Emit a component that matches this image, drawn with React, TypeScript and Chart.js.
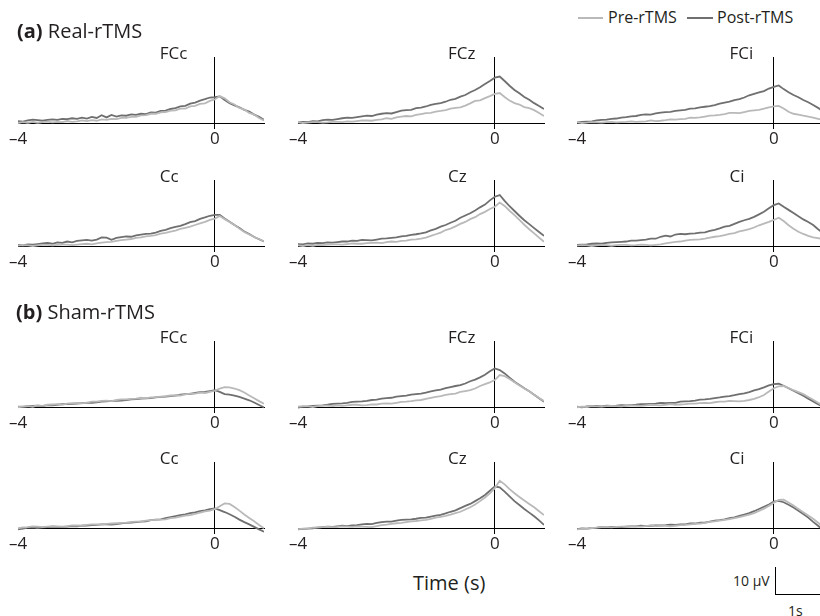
import React, { useEffect, useRef } from 'react';
import { Chart, registerables } from 'chart.js';

Chart.register(...registerables);

// ---------- data (µV, sampled every 0.1 s) ----------
const TIME_S = [
  -4, -3.9, -3.8, -3.7, -3.6, -3.5, -3.4, -3.3, -3.2, -3.1,
  -3, -2.9, -2.8, -2.7, -2.6, -2.5, -2.4, -2.3, -2.2, -2.1,
  -2, -1.9, -1.8, -1.7, -1.6, -1.5, -1.4, -1.3, -1.2, -1.1,
  -1, -0.9, -0.8, -0.7, -0.6, -0.5, -0.4, -0.3, -0.2, -0.1,
  0,
  0.1, 0.2, 0.3, 0.4, 0.5, 0.6, 0.7, 0.8, 0.9, 1,
];
const X_TICKS = [-4, 0];
const SERIES_NAMES = ['Pre-rTMS', 'Post-rTMS'];
const CHANNELS = ['FCc', 'FCz', 'FCi', 'Cc', 'Cz', 'Ci'];
const CONDITIONS = ['Real-rTMS', 'Sham-rTMS'];

const REAL_FCC_PRE = [
  0.0, 0.3, 0.1, 0.4, 0.1, 0.3, 0.5, 0.2, 0.4, 0.3,
  0.7, 0.4, 0.6, 0.9, 0.7, 1.0, 0.8, 1.3, 1.1, 1.5,
  1.4, 1.8, 1.8, 2.2, 2.2, 2.7, 2.8, 3.3, 3.3, 3.8,
  3.9, 4.4, 4.5, 5.1, 5.1, 5.9, 6.1, 6.8, 7.0, 7.9,
  8.4,
  9.6, 8.8, 7.4, 6.6, 5.4, 4.8, 3.6, 3.0, 1.8, 0.9,
];
const REAL_FCC_POST = [
  0.7, 0.5, 0.9, 1.2, 1.0, 0.8, 1.1, 1.3, 1.1, 1.5,
  1.4, 1.7, 1.5, 1.9, 1.6, 2.2, 1.8, 2.8, 2.0, 2.9,
  2.3, 2.7, 2.6, 3.1, 2.9, 3.3, 3.2, 3.8, 3.7, 4.3,
  4.4, 5.0, 5.3, 5.9, 6.1, 6.9, 7.3, 8.0, 8.5, 9.1,
  9.2,
  9.5, 8.2, 7.1, 6.3, 5.6, 4.7, 4.1, 3.0, 2.2, 1.1,
];
const REAL_FCZ_PRE = [
  0.2, 0.0, 0.1, 0.3, 0.3, 0.1, 0.2, 0.4, 0.4, 0.3,
  0.6, 0.5, 0.7, 0.9, 0.9, 0.8, 1.1, 1.3, 1.7, 1.5,
  2.0, 2.3, 2.5, 2.4, 2.9, 3.2, 3.5, 3.6, 4.1, 4.3,
  4.6, 5.1, 5.4, 5.6, 6.2, 7.0, 7.9, 8.1, 8.9, 9.6,
  10.4,
  10.7, 9.3, 8.0, 7.1, 6.6, 5.7, 5.3, 4.6, 3.6, 2.5,
];
const REAL_FCZ_POST = [
  0.2, 0.4, 0.3, 0.7, 0.6, 1.0, 1.2, 1.1, 1.4, 1.7,
  1.9, 1.8, 2.1, 2.4, 2.6, 2.5, 3.0, 3.3, 3.5, 3.4,
  3.9, 4.4, 4.6, 4.7, 5.3, 5.5, 5.9, 6.5, 6.8, 7.1,
  7.6, 8.3, 8.6, 9.4, 10.0, 11.0, 11.8, 12.8, 13.9, 15.0,
  16.2,
  16.6, 15.0, 13.3, 11.8, 10.6, 9.3, 8.3, 7.1, 6.1, 5.0,
];
const REAL_FCI_PRE = [
  0.2, 0.0, 0.1, 0.3, 0.2, 0.1, 0.3, 0.4, 0.2, 0.3,
  0.4, 0.6, 0.4, 0.5, 0.6, 0.9, 0.7, 0.8, 1.0, 1.3,
  1.2, 1.4, 1.5, 1.9, 1.8, 2.0, 2.3, 2.6, 2.7, 2.9,
  3.2, 3.6, 3.6, 3.5, 3.9, 4.3, 4.5, 4.7, 5.1, 5.6,
  5.9,
  6.1, 5.2, 4.0, 3.3, 3.0, 2.6, 2.3, 1.9, 1.5, 1.1,
];
const REAL_FCI_POST = [
  0.2, 0.4, 0.5, 0.6, 0.9, 1.1, 1.2, 1.5, 1.6, 1.9,
  2.1, 2.4, 2.5, 2.9, 3.1, 3.0, 3.4, 3.7, 3.9, 4.0,
  4.3, 4.5, 4.7, 5.1, 5.2, 5.6, 5.8, 6.0, 6.4, 6.9,
  7.3, 7.6, 8.2, 8.5, 9.1, 9.9, 10.4, 10.9, 11.4, 12.3,
  12.9,
  13.4, 12.1, 11.0, 10.0, 9.2, 8.2, 7.4, 6.4, 5.4, 4.3,
];
const REAL_CC_PRE = [
  0.1, 0.3, 0.2, 0.0, 0.2, 0.4, 0.4, 0.2, 0.4, 0.5,
  0.5, 0.3, 0.5, 0.7, 0.8, 0.6, 0.9, 1.2, 1.4, 1.5,
  1.8, 2.1, 2.3, 2.5, 2.9, 3.1, 3.4, 3.6, 3.9, 4.4,
  4.7, 5.1, 5.5, 6.1, 6.5, 6.9, 7.5, 8.1, 8.6, 9.3,
  9.8,
  10.7, 9.6, 8.6, 7.5, 6.2, 5.0, 4.1, 3.2, 2.5, 1.6,
];
const REAL_CC_POST = [
  0.4, 0.2, 0.6, 0.5, 0.7, 0.9, 1.1, 0.8, 1.3, 1.1,
  1.6, 1.3, 1.8, 2.0, 2.2, 1.9, 2.3, 3.1, 3.0, 2.2,
  2.9, 3.2, 3.4, 3.3, 3.8, 4.1, 4.3, 4.4, 4.8, 5.4,
  5.8, 6.4, 6.8, 7.2, 7.8, 8.5, 8.9, 9.7, 10.2, 10.8,
  11.1,
  11.1, 9.8, 8.7, 7.5, 6.4, 5.2, 4.3, 3.2, 2.4, 1.6,
];
const REAL_CZ_PRE = [
  0.2, 0.0, 0.3, 0.1, 0.4, 0.3, 0.5, 0.6, 0.6, 0.5,
  0.7, 0.9, 0.8, 0.8, 1.0, 1.1, 1.2, 1.0, 1.4, 1.6,
  1.5, 1.8, 1.9, 2.3, 2.4, 2.6, 3.0, 3.6, 4.2, 4.8,
  5.7, 6.2, 7.0, 7.9, 8.6, 9.6, 10.3, 11.4, 12.2, 13.2,
  14.0,
  15.5, 14.3, 12.6, 11.0, 9.3, 7.6, 6.0, 4.5, 3.0, 1.5,
];
const REAL_CZ_POST = [
  0.7, 0.6, 0.9, 0.8, 1.1, 1.0, 1.3, 1.2, 1.4, 1.6,
  1.6, 1.9, 1.8, 2.2, 2.1, 2.0, 2.3, 2.6, 2.7, 2.9,
  3.1, 3.4, 3.6, 4.0, 4.2, 4.5, 4.9, 5.6, 6.1, 6.9,
  7.5, 8.3, 9.0, 10.1, 10.9, 11.7, 12.7, 13.8, 14.8, 16.3,
  17.6,
  18.2, 16.1, 14.2, 12.5, 10.8, 9.2, 7.8, 6.4, 5.0, 3.6,
];
const REAL_CI_PRE = [
  0.1, 0.3, 0.2, 0.0, 0.2, 0.4, 0.3, 0.1, 0.3, 0.4,
  0.4, 0.2, 0.3, 0.5, 0.4, 0.2, 0.4, 0.6, 0.9, 1.2,
  1.5, 1.6, 1.9, 2.2, 2.3, 2.4, 2.6, 3.0, 3.3, 3.5,
  3.9, 4.3, 4.6, 5.2, 5.6, 6.0, 6.6, 7.4, 8.0, 8.6,
  9.3,
  10.1, 8.9, 7.4, 6.2, 5.1, 4.3, 3.6, 3.1, 2.8, 2.4,
];
const REAL_CI_POST = [
  0.4, 0.5, 0.6, 0.8, 0.9, 0.8, 1.1, 1.3, 1.4, 1.5,
  1.6, 1.9, 1.9, 2.1, 2.3, 2.6, 2.6, 3.3, 3.7, 3.4,
  4.1, 4.3, 4.2, 4.4, 4.5, 4.8, 4.9, 5.4, 5.8, 6.3,
  6.9, 7.2, 7.9, 8.6, 9.2, 9.7, 10.4, 11.3, 12.2, 13.5,
  14.6,
  15.2, 14.0, 12.9, 11.8, 10.6, 9.5, 8.6, 7.5, 6.0, 4.6,
];

const SHAM_FCC_PRE = [
  -0.1, 0.2, 0.3, 0.1, 0.6, 0.4, 0.8, 0.9, 1.0, 0.8,
  1.2, 1.4, 1.5, 1.3, 1.6, 1.9, 1.9, 2.2, 2.3, 2.1,
  2.5, 2.7, 2.7, 2.9, 3.0, 3.3, 3.1, 3.4, 3.5, 3.7,
  3.9, 4.1, 4.2, 4.1, 4.5, 4.8, 4.8, 5.1, 5.0, 5.4,
  5.8,
  6.6, 7.1, 7.0, 6.6, 6.0, 5.2, 4.1, 3.1, 2.1, 1.2,
];
const SHAM_FCC_POST = [
  0.1, 0.0, 0.3, 0.4, 0.5, 0.3, 0.7, 0.6, 0.8, 1.0,
  1.0, 1.1, 1.2, 1.4, 1.5, 1.5, 1.7, 1.9, 2.0, 2.2,
  2.2, 2.3, 2.5, 2.7, 2.8, 3.0, 3.1, 3.2, 3.4, 3.6,
  3.7, 3.9, 4.1, 4.4, 4.6, 4.7, 5.0, 5.3, 5.4, 5.7,
  6.0,
  5.4, 4.6, 4.4, 4.1, 3.6, 3.0, 2.4, 1.6, 0.7, -0.2,
];
const SHAM_FCZ_PRE = [
  0.1, 0.3, 0.2, 0.0, 0.3, 0.5, 0.5, 0.3, 0.6, 0.4,
  0.6, 0.8, 0.8, 0.6, 0.7, 0.9, 0.9, 1.2, 1.3, 1.2,
  1.5, 1.8, 1.9, 2.1, 2.4, 2.5, 2.9, 3.3, 3.6, 3.9,
  4.3, 4.6, 4.8, 5.4, 5.7, 6.0, 6.6, 7.5, 8.2, 8.8,
  9.6,
  11.4, 11.0, 10.0, 8.8, 7.7, 6.6, 5.6, 4.4, 3.2, 2.1,
];
const SHAM_FCZ_POST = [
  -0.2, 0.1, 0.2, 0.4, 0.5, 0.6, 0.8, 1.1, 1.2, 1.3,
  1.5, 1.8, 1.9, 2.0, 2.2, 2.5, 2.6, 3.0, 3.2, 3.3,
  3.7, 3.9, 4.1, 4.4, 4.6, 4.8, 5.1, 5.6, 5.9, 6.2,
  6.7, 7.1, 7.5, 7.8, 8.4, 9.2, 9.8, 10.6, 11.5, 12.8,
  13.8,
  13.2, 12.0, 10.5, 9.0, 7.9, 6.7, 5.6, 4.4, 3.1, 1.9,
];
const SHAM_FCI_PRE = [
  -0.1, 0.1, 0.0, 0.3, 0.2, 0.1, 0.3, 0.4, 0.3, 0.2,
  0.4, 0.6, 0.5, 0.4, 0.6, 0.8, 0.7, 0.6, 0.8, 1.0,
  0.8, 0.9, 1.0, 1.2, 1.2, 1.4, 1.5, 1.4, 1.7, 1.9,
  1.9, 2.2, 2.1, 2.0, 2.2, 2.5, 2.9, 3.5, 4.3, 5.5,
  6.7,
  7.4, 7.5, 6.8, 6.0, 5.3, 4.6, 3.6, 2.6, 1.5, 0.5,
];
const SHAM_FCI_POST = [
  0.1, -0.1, 0.2, 0.3, 0.4, 0.2, 0.5, 0.4, 0.5, 0.7,
  0.6, 0.7, 0.8, 1.0, 1.0, 1.1, 1.2, 1.5, 1.4, 1.5,
  1.5, 1.9, 2.0, 2.1, 2.3, 2.6, 2.7, 2.9, 3.2, 3.4,
  3.7, 3.9, 4.2, 4.6, 4.9, 5.3, 5.9, 6.4, 7.0, 7.7,
  8.2,
  8.3, 7.6, 6.7, 5.8, 4.9, 4.0, 3.0, 2.0, 1.0, 0.1,
];
const SHAM_CC_PRE = [
  -0.1, 0.2, 0.3, 0.6, 0.5, 0.3, 0.5, 0.7, 0.6, 0.5,
  0.7, 0.9, 0.9, 0.8, 1.1, 1.3, 1.3, 1.2, 1.5, 1.6,
  1.7, 1.8, 1.9, 2.2, 2.3, 2.4, 2.6, 2.8, 2.9, 3.0,
  3.1, 3.5, 3.7, 4.1, 4.4, 4.6, 5.0, 5.5, 5.9, 6.2,
  6.7,
  7.8, 8.8, 8.6, 7.5, 6.2, 4.8, 3.6, 2.4, 1.1, -0.1,
];
const SHAM_CC_POST = [
  -0.5, -0.2, 0.1, 0.2, 0.0, 0.2, 0.3, 0.5, 0.4, 0.4,
  0.5, 0.7, 0.6, 0.8, 0.9, 1.0, 1.1, 1.3, 1.3, 1.2,
  1.4, 1.7, 1.8, 1.9, 2.1, 2.3, 2.4, 2.8, 3.0, 3.1,
  3.5, 3.9, 4.2, 4.6, 4.9, 5.3, 5.6, 6.0, 6.3, 6.7,
  7.0,
  6.4, 5.7, 4.9, 4.0, 3.0, 2.1, 1.3, 0.4, -0.5, -1.3,
];
const SHAM_CZ_PRE = [
  -0.4, -0.2, -0.1, 0.1, 0.2, 0.3, 0.4, 0.3, 0.4, 0.6,
  0.5, 0.4, 0.6, 0.5, 0.4, 0.3, 0.7, 1.0, 1.2, 1.5,
  1.7, 1.8, 2.1, 2.4, 2.5, 2.7, 2.9, 3.3, 3.7, 4.0,
  4.3, 4.8, 5.3, 5.8, 6.6, 7.4, 8.4, 9.6, 10.9, 12.4,
  14.2,
  16.9, 15.6, 13.9, 12.4, 11.1, 9.8, 8.6, 7.4, 6.0, 4.6,
];
const SHAM_CZ_POST = [
  -0.5, -0.3, -0.2, -0.1, 0.1, 0.3, 0.5, 0.4, 0.6, 0.8,
  0.7, 0.9, 1.0, 1.3, 1.5, 1.4, 1.8, 2.1, 2.3, 2.3,
  2.6, 2.9, 3.0, 3.1, 3.3, 3.6, 3.7, 4.1, 4.4, 4.7,
  5.2, 5.8, 6.3, 7.1, 7.9, 8.6, 9.6, 10.6, 11.8, 13.3,
  14.8,
  14.5, 13.0, 11.3, 9.6, 8.2, 6.8, 5.5, 4.2, 2.7, 1.1,
];
const SHAM_CI_PRE = [
  -0.5, -0.3, -0.2, 0.0, 0.1, 0.3, 0.3, 0.2, 0.4, 0.5,
  0.5, 0.7, 0.6, 0.5, 0.7, 0.9, 0.7, 0.8, 0.8, 0.6,
  0.8, 1.0, 1.1, 1.3, 1.5, 1.6, 1.8, 2.2, 2.4, 2.6,
  2.9, 3.2, 3.5, 3.9, 4.3, 4.8, 5.3, 6.1, 6.9, 7.9,
  9.0,
  10.0, 10.1, 9.1, 8.0, 6.8, 5.6, 4.5, 3.3, 1.9, 0.5,
];
const SHAM_CI_POST = [
  -0.4, -0.1, -0.2, 0.0, 0.1, 0.3, 0.2, 0.4, 0.4, 0.3,
  0.5, 0.6, 0.6, 0.8, 0.7, 0.8, 0.9, 0.9, 1.0, 1.2,
  1.1, 1.3, 1.3, 1.6, 1.6, 1.9, 1.9, 2.3, 2.6, 2.8,
  3.1, 3.5, 3.8, 4.3, 4.8, 5.3, 6.0, 6.8, 7.6, 8.4,
  9.4,
  9.7, 9.2, 8.3, 7.3, 6.2, 5.0, 3.7, 2.2, 0.8, -0.7,
];

const PRE_SETS = [
  [REAL_FCC_PRE, REAL_FCZ_PRE, REAL_FCI_PRE, REAL_CC_PRE, REAL_CZ_PRE, REAL_CI_PRE],
  [SHAM_FCC_PRE, SHAM_FCZ_PRE, SHAM_FCI_PRE, SHAM_CC_PRE, SHAM_CZ_PRE, SHAM_CI_PRE],
];
const POST_SETS = [
  [REAL_FCC_POST, REAL_FCZ_POST, REAL_FCI_POST, REAL_CC_POST, REAL_CZ_POST, REAL_CI_POST],
  [SHAM_FCC_POST, SHAM_FCZ_POST, SHAM_FCI_POST, SHAM_CC_POST, SHAM_CZ_POST, SHAM_CI_POST],
];

// ---------- styling / layout ----------
const FONT = "'Open Sans', 'Noto Sans', sans-serif";
const TEXT = '#231f20';
const PRE_COLOR = '#b9b9b9';
const POST_COLOR = '#6f6f6f';
const PX_PER_S = 49.25;
const PX_PER_UV = 2.8;
const ABOVE = 66; // px from baseline to top of plot
const BELOW = 5; // px from baseline to bottom of plot
const COL_ZERO = [215, 495, 774];
const ROW_BASE = [123, 246, 407, 528];
const LABEL_AT = [-1.12, -0.95, -0.9];
const PAD = { left: 20, right: 6, top: 24, bottom: 30 };

const panelLabel = {
  id: 'panelLabel',
  afterDraw(chart: any, _args: any, opts: any) {
    const { ctx, chartArea, scales } = chart;
    ctx.save();
    ctx.font = `17px ${FONT}`;
    ctx.fillStyle = TEXT;
    ctx.textAlign = 'left';
    ctx.textBaseline = 'middle';
    ctx.fillText(opts.text, scales.x.getPixelForValue(opts.at), chartArea.top - 3);
    ctx.restore();
  },
};

function Panel({ cond, idx }: { cond: number; idx: number }) {
  const ref = useRef<HTMLCanvasElement>(null);
  const col = idx % 3;
  const row = cond * 2 + Math.floor(idx / 3);
  const areaW = 5 * PX_PER_S;
  const width = Math.round(PAD.left + areaW + PAD.right);
  const height = PAD.top + ABOVE + BELOW + PAD.bottom;
  const left = Math.round(COL_ZERO[col] - 4 * PX_PER_S - PAD.left);
  const top = ROW_BASE[row] - ABOVE - PAD.top;

  useEffect(() => {
    const pre = PRE_SETS[cond][idx];
    const post = POST_SETS[cond][idx];
    const chart = new Chart(ref.current as HTMLCanvasElement, {
      type: 'line',
      data: {
        datasets: [
          {
            label: SERIES_NAMES[0],
            data: TIME_S.map((t, i) => ({ x: t, y: pre[i] })),
            borderColor: PRE_COLOR,
            borderWidth: 1.8,
            pointRadius: 0,
            tension: 0,
          },
          {
            label: SERIES_NAMES[1],
            data: TIME_S.map((t, i) => ({ x: t, y: post[i] })),
            borderColor: POST_COLOR,
            borderWidth: 1.8,
            pointRadius: 0,
            tension: 0,
          },
        ],
      },
      options: {
        animation: false,
        responsive: false,
        events: [],
        layout: { padding: PAD },
        plugins: {
          legend: { display: false },
          tooltip: { enabled: false },
          panelLabel: { text: CHANNELS[idx], at: LABEL_AT[col] },
        } as any,
        scales: {
          x: {
            type: 'linear',
            min: -4,
            max: 1,
            position: { y: 0 } as any,
            grid: { display: false, drawTicks: false },
            border: { display: true, color: '#000', width: 1 },
            afterBuildTicks: (s: any) => {
              s.ticks = X_TICKS.map((v) => ({ value: v }));
            },
            ticks: {
              padding: 6,
              color: TEXT,
              autoSkip: false,
              maxRotation: 0,
              font: { size: 17, family: FONT },
              callback: (v: any) => (v < 0 ? '\u2013' + Math.abs(v) : String(v)),
            },
          },
          y: {
            type: 'linear',
            min: -BELOW / PX_PER_UV,
            max: ABOVE / PX_PER_UV,
            position: { x: 0 } as any,
            grid: { display: false, drawTicks: false },
            border: { display: true, color: '#000', width: 1 },
            ticks: { display: false },
          },
        },
      },
      plugins: [panelLabel],
    });
    return () => chart.destroy();
  }, [cond, idx]);

  return (
    <canvas
      ref={ref}
      width={width}
      height={height}
      style={{ position: 'absolute', left, top, width, height }}
    />
  );
}

export default function App() {
  const abs = (l: number, t: number, extra: any = {}) => ({
    position: 'absolute' as const,
    left: l,
    top: t,
    whiteSpace: 'nowrap' as const,
    color: TEXT,
    fontFamily: FONT,
    ...extra,
  });
  return (
    <div style={{ position: 'absolute', left: 0, top: 0, width: 820, height: 616, overflow: 'hidden', background: '#fff' }}>
      {[0, 1].map((c) => CHANNELS.map((_, i) => <Panel key={c + '-' + i} cond={c} idx={i} />))}

      <div style={abs(17, 19, { fontSize: 20, lineHeight: '24px' })}>
        <b>(a)</b> {CONDITIONS[0]}
      </div>
      <div style={abs(16, 300, { fontSize: 20, lineHeight: '24px' })}>
        <b>(b)</b> {CONDITIONS[1]}
      </div>

      {/* legend */}
      <div style={abs(578, 17, { width: 25, height: 0, borderTop: `2px solid ${PRE_COLOR}` })} />
      <div style={abs(608, 6, { fontSize: 16, lineHeight: '22px' })}>{SERIES_NAMES[0]}</div>
      <div style={abs(687, 17, { width: 26, height: 0, borderTop: `2px solid ${POST_COLOR}` })} />
      <div style={abs(717, 6, { fontSize: 16, lineHeight: '22px' })}>{SERIES_NAMES[1]}</div>

      <div style={abs(413, 571, { fontSize: 20, lineHeight: '24px' })}>Time (s)</div>

      {/* scale bar */}
      <div style={abs(775, 567, { width: 45, height: 28, borderLeft: '1px solid #000', borderBottom: '1px solid #000', boxSizing: 'border-box' })} />
      <div style={abs(733, 571, { fontSize: 14, lineHeight: '20px', width: 36, textAlign: 'right' })}>10 µV</div>
      <div style={abs(788, 601, { fontSize: 14, lineHeight: '20px' })}>1s</div>
    </div>
  );
}
